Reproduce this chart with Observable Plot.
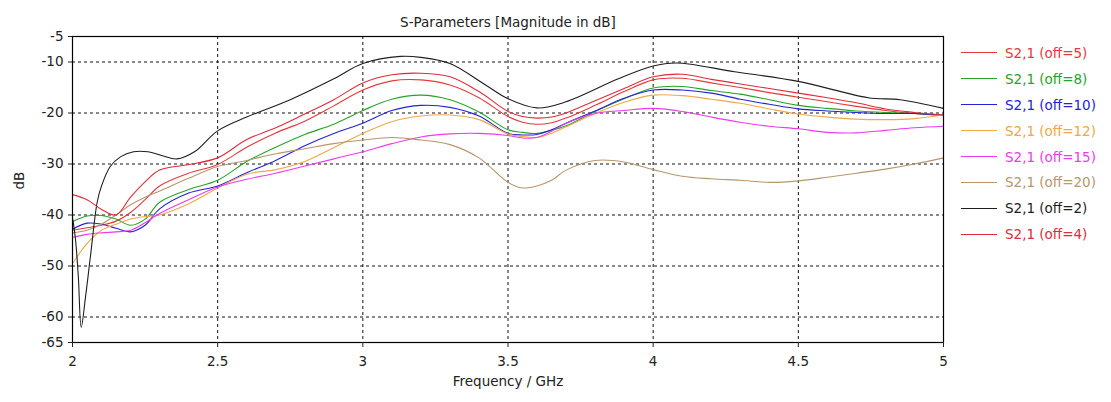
<!DOCTYPE html>
<html>
<head>
<meta charset="utf-8">
<script src="https://cdn.jsdelivr.net/npm/d3@7"></script>
<script src="https://cdn.jsdelivr.net/npm/@observablehq/plot@0.6"></script>
<style>
  html, body { margin: 0; padding: 0; background: #fff; }
  #wrap { position: relative; width: 1111px; height: 402px; font-family: "DejaVu Sans", Verdana, sans-serif; }
  #legend { position: absolute; left: 961px; top: 40px; }
  .row { height: 25.9px; display: flex; align-items: center; font-size: 13.5px; white-space: nowrap; }
  .swatch { width: 36px; height: 0; border-top: 1.2px solid; margin-right: 8px; }
</style>
</head>
<body>
<div id="wrap"><div id="legend"></div></div>
<script>
const titleText = "S-Parameters [Magnitude in dB]";
const xLabel = "Frequency / GHz";
const yLabel = "dB";
const xTicks = [2, 2.5, 3, 3.5, 4, 4.5, 5];
const yTicks = [-5, -10, -20, -30, -40, -50, -60, -65];
const xGrid = [2.5, 3, 3.5, 4, 4.5];
const yGrid = [-10, -20, -30, -40, -50, -60];

const freqGrid = [2.0, 2.05, 2.1, 2.15, 2.2, 2.25, 2.3, 2.4, 2.5, 2.6, 2.7, 2.8, 2.9, 3.0, 3.1, 3.2, 3.3, 3.4, 3.5, 3.55, 3.6, 3.65, 3.7, 3.8, 3.9, 4.0, 4.1, 4.2, 4.3, 4.4, 4.5, 4.6, 4.7, 4.8, 4.9, 5.0];

const s21_off5  = [-43, -42.5, -42, -41.2, -39.5, -37, -34.3, -31.8, -30.1, -26.7, -23.9, -21.6, -18.6, -15.5, -13.7, -13.5, -14.5, -17, -20.7, -21.8, -22.2, -21.9, -21, -18.5, -15.8, -13.5, -13.2, -14.1, -15, -16, -16.9, -17.8, -18.7, -19.5, -20.1, -20.5];
const s21_off8  = [-41.3, -40.2, -40.1, -40.8, -42, -40.8, -37.5, -35, -33.2, -29.5, -26.7, -24.2, -22.2, -19.5, -17.3, -16.5, -17.4, -19.8, -23.3, -23.8, -24, -23.4, -22.5, -19.7, -17.2, -15.1, -14.8, -15.6, -16.3, -17.4, -18.5, -19.1, -19.6, -19.9, -20.1, -20.4];
const s21_off10 = [-42.8, -41.6, -41.8, -42.6, -43.3, -42, -38.8, -35.7, -34.3, -31.7, -29.3, -26.4, -24, -22, -19.5, -18.5, -18.9, -20.6, -24, -24.3, -24.2, -23.3, -22, -19.6, -17.1, -15.5, -15.5, -16.1, -17.3, -18.3, -19.2, -19.6, -19.9, -20.1, -20.1, -20.5];
const s21_off12 = [-49.5, -45.6, -43, -41.8, -40.8, -40.3, -40, -37.8, -34.7, -32, -31.1, -29.5, -26.8, -24, -21.7, -20.6, -20.4, -21.3, -24.1, -24.6, -24.8, -24, -22.7, -20.1, -17.9, -16.5, -16.6, -17.3, -18.1, -19.2, -20.2, -20.8, -21.2, -21.3, -21.1, -20.4];
const s21_off15 = [-44.4, -43.8, -43.5, -43.3, -43, -41.5, -39.7, -37, -34.5, -33, -31.8, -30.4, -29, -27.6, -26, -24.7, -24.1, -24, -24.4, -24.9, -24.8, -23.6, -22, -20.1, -19.5, -19.1, -19.7, -20.8, -21.8, -22.6, -23.1, -23.8, -23.9, -23.4, -22.9, -22.6];
const s21_off20 = [-43.5, -43, -41.8, -40, -38, -36.5, -35.3, -32.8, -30.5, -29.3, -28, -27, -26, -25.3, -24.8, -25.3, -26.2, -28.8, -33.6, -34.7, -34.3, -33.2, -31.2, -29.3, -29.6, -31.1, -32.4, -32.9, -33.2, -33.6, -33.3, -32.6, -31.8, -31, -30, -28.8];
const s21_off4  = [-36, -37, -38.9, -40, -36.5, -33.5, -31.2, -30.1, -28.8, -25.2, -22.9, -20.2, -17.4, -14.1, -12.5, -12.2, -12.9, -15.8, -19.7, -20.7, -21, -20.8, -20, -17.6, -15.2, -12.9, -12.4, -13.4, -14.3, -15.2, -16.1, -17, -18, -19.2, -19.9, -20.4];

const freqOff2 = [2.0, 2.01, 2.02, 2.03, 2.045, 2.062, 2.085, 2.1, 2.13, 2.165, 2.21, 2.26, 2.31, 2.36, 2.42, 2.5, 2.6, 2.75, 2.9, 3.0, 3.13, 3.2, 3.3, 3.42, 3.5, 3.6, 3.7, 3.88, 4.0, 4.08, 4.28, 4.5, 4.74, 4.85, 5.0];
const s21_off2  = [-40.5, -44.6, -52, -62, -56, -48, -37.5, -34.3, -30.5, -28.6, -27.6, -27.6, -28.4, -29, -27.6, -23.5, -20.8, -17.4, -13.3, -10.3, -8.9, -9.1, -10.3, -14.4, -17.2, -19, -17.8, -13.3, -10.8, -10.2, -11.9, -13.8, -17, -17.4, -19.1];

const seriesNames = ["S2,1 (off=5)", "S2,1 (off=8)", "S2,1 (off=10)", "S2,1 (off=12)", "S2,1 (off=15)", "S2,1 (off=20)", "S2,1 (off=2)", "S2,1 (off=4)"];
const seriesColors = ["#e8373a", "#25a525", "#2323d6", "#f0a848", "#ee3aee", "#b8966c", "#1e1e1e", "#e02b3c"];
const seriesFreqs = [freqGrid, freqGrid, freqGrid, freqGrid, freqGrid, freqGrid, freqOff2, freqGrid];
const seriesValues = [s21_off5, s21_off8, s21_off10, s21_off12, s21_off15, s21_off20, s21_off2, s21_off4];

const rows = seriesNames.flatMap((name, k) =>
  seriesFreqs[k].map((f, i) => ({ name, f, db: seriesValues[k][i] })));

const fmt = d => String(d);

const chart = Plot.plot({
  width: 1111,
  height: 402,
  marginLeft: 72,
  marginRight: 168,
  marginTop: 36,
  marginBottom: 60,
  style: { fontFamily: "DejaVu Sans, Verdana, sans-serif", fontSize: "13.5px", color: "#222", background: "transparent" },
  x: { domain: [2, 5] },
  y: { domain: [-65, -5] },
  color: { domain: seriesNames, range: seriesColors },
  marks: [
    Plot.gridX(xGrid, { stroke: "#111", strokeOpacity: 1, strokeDasharray: "3,3", strokeWidth: 1 }),
    Plot.gridY(yGrid, { stroke: "#111", strokeOpacity: 1, strokeDasharray: "3,3", strokeWidth: 1 }),
    Plot.line(rows, { x: "f", y: "db", z: "name", stroke: "name", strokeWidth: 1.1, curve: "catmull-rom" }),
    Plot.frame({ stroke: "#000", strokeWidth: 1.2 }),
    Plot.axisX({ ticks: xTicks, tickSize: 5, tickPadding: 9, tickFormat: fmt, label: null, fontSize: 13.5 }),
    Plot.axisY({ ticks: yTicks, tickSize: 4, tickPadding: 5, tickFormat: fmt, label: null, fontSize: 13.5 }),
    Plot.text([titleText], { text: d => d, frameAnchor: "top", dy: -19, fontSize: 13.5, fill: "#222" }),
    Plot.text([xLabel], { text: d => d, frameAnchor: "bottom", dy: 43, fontSize: 13.5, fill: "#222" }),
    Plot.text([yLabel], { text: d => d, frameAnchor: "left", dx: -53, rotate: -90, fontSize: 13.5, fill: "#222" })
  ]
});

const wrap = document.getElementById("wrap");
wrap.insertBefore(chart, wrap.firstChild);

const legend = document.getElementById("legend");
seriesNames.forEach((name, k) => {
  const row = document.createElement("div");
  row.className = "row";
  const sw = document.createElement("span");
  sw.className = "swatch";
  sw.style.borderTopColor = seriesColors[k];
  const label = document.createElement("span");
  label.textContent = name;
  label.style.color = seriesColors[k];
  row.appendChild(sw);
  row.appendChild(label);
  legend.appendChild(row);
});
</script>
</body>
</html>
